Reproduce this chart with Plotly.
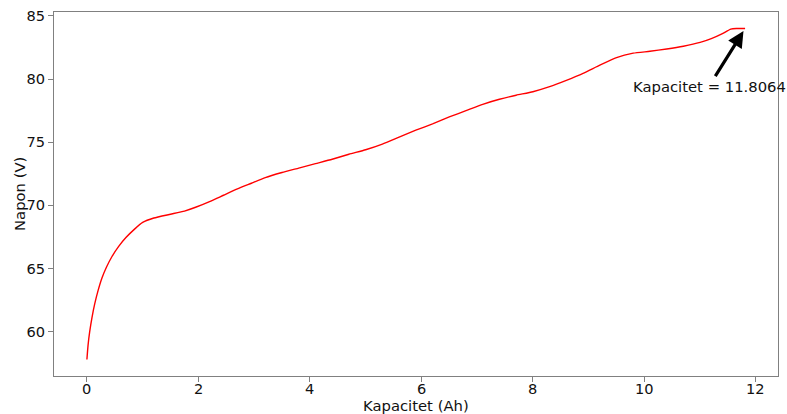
import plotly.graph_objects as go

# Charging curve: capacity (Ah) vs. voltage (V)
kapacitet = [0, 0.02, 0.05, 0.09, 0.14, 0.2, 0.27, 0.35, 0.45, 0.57, 0.7, 0.85, 1.0,
             1.2, 1.5, 1.75, 1.95, 2.2, 2.45, 2.7, 2.95, 3.2, 3.5, 3.8, 4.1, 4.4,
             4.7, 5.0, 5.3, 5.6, 5.9, 6.2, 6.5, 6.8, 7.1, 7.4, 7.7, 8.0, 8.3, 8.6,
             8.9, 9.2, 9.5, 9.8, 10.1, 10.4, 10.7, 11.0, 11.2, 11.4, 11.55, 11.65,
             11.8064]
napon = [57.8, 58.9, 60.0, 61.1, 62.2, 63.25, 64.25, 65.1, 65.95, 66.75, 67.45, 68.1,
         68.65, 69.0, 69.3, 69.55, 69.85, 70.3, 70.8, 71.3, 71.75, 72.2, 72.6,
         72.95, 73.3, 73.65, 74.05, 74.4, 74.85, 75.4, 75.95, 76.45, 77.0, 77.5,
         78.0, 78.4, 78.72, 79.0, 79.4, 79.9, 80.45, 81.1, 81.7, 82.05, 82.2,
         82.38, 82.6, 82.9, 83.2, 83.6, 83.95, 84.0, 84.0]

x_ticks = [0, 2, 4, 6, 8, 10, 12]
y_ticks = [60, 65, 70, 75, 80, 85]

FONT = "DejaVu Sans"
AXIS_COLOR = "#808080"
TEXT_COLOR = "#111111"

cap_max = kapacitet[-1]
v_end = napon[-1]

# Axis limits with 5% padding around the data
xpad = 0.05 * (max(kapacitet) - min(kapacitet))
ypad = 0.05 * (max(napon) - min(napon))
x_range = [min(kapacitet) - xpad, max(kapacitet) + xpad]
y_range = [min(napon) - ypad, max(napon) + ypad]

fig = go.Figure()
fig.add_trace(go.Scatter(
    x=kapacitet, y=napon, mode="lines",
    line=dict(color="#ff0000", width=1.4, shape="spline", smoothing=0.5),
    showlegend=False, hoverinfo="skip",
))

# Final-capacity callout with arrow to the end of the curve
fig.add_annotation(
    x=cap_max, y=v_end, xref="x", yref="y",
    ax=11.16, ay=79.44, axref="x", ayref="y",
    text=f"Kapacitet = {cap_max}",
    showarrow=True, arrowhead=2, arrowsize=1.0, arrowwidth=3.2,
    arrowcolor="black", standoff=3,
    font=dict(family=FONT, size=14.8, color=TEXT_COLOR),
)

# X tick labels, set tight under the axis line
for v in x_ticks:
    fig.add_annotation(
        text=str(v), xref="x", yref="paper", x=v, y=0, yshift=-12,
        xanchor="center", yanchor="middle", showarrow=False, borderpad=0,
        font=dict(family=FONT, size=14.6, color=TEXT_COLOR),
    )

# Axis titles
fig.add_annotation(
    text="Kapacitet (Ah)", xref="paper", yref="paper", x=0.5, y=0, yshift=-29,
    xanchor="center", yanchor="middle", showarrow=False, borderpad=0,
    font=dict(family=FONT, size=14.8, color=TEXT_COLOR),
)
fig.add_annotation(
    text="Napon (V)", xref="paper", yref="paper", x=-0.0484, y=0.5,
    xanchor="center", yanchor="middle", showarrow=False, textangle=-90,
    font=dict(family=FONT, size=14.8, color=TEXT_COLOR),
)

axis_common = dict(
    showgrid=False, zeroline=False, showline=True, linecolor=AXIS_COLOR,
    linewidth=1, mirror=True, ticks="outside", ticklen=5, tickcolor=AXIS_COLOR,
    tickwidth=1, automargin=False,
    tickfont=dict(family=FONT, size=14.6, color=TEXT_COLOR),
)

fig.update_xaxes(range=x_range, tickvals=x_ticks, showticklabels=False,
                 **axis_common)
fig.update_yaxes(range=y_range, tickvals=y_ticks,
                 ticktext=[str(v) for v in y_ticks], **axis_common)

fig.update_layout(
    width=787, height=414,
    margin=dict(l=54, r=9, t=12, b=38),
    paper_bgcolor="white", plot_bgcolor="white",
)

fig.write_html("out.html")
